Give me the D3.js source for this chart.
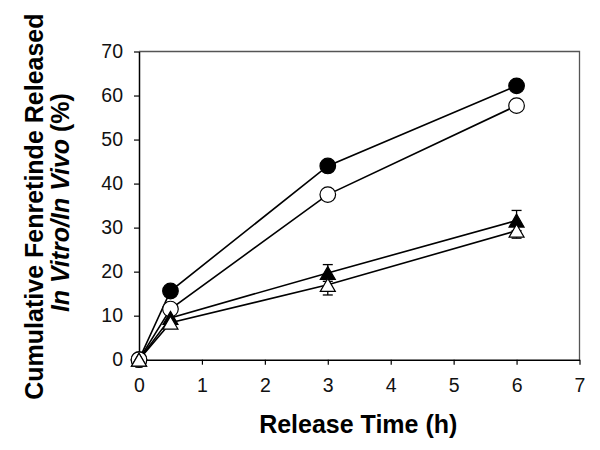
<!DOCTYPE html>
<html>
<head>
<meta charset="utf-8">
<script src="https://cdn.jsdelivr.net/npm/d3@7"></script>
<style>
  body { margin: 0; background: #fff; }
  svg { font-family: "Liberation Sans", Arial, sans-serif; }
</style>
</head>
<body>
<svg id="chart" width="600" height="450"></svg>
<script>
const times = [0, 0.5, 3, 6];
const filledCircle = [0, 15.6, 44.0, 62.2];
const openCircle = [0, 11.5, 37.5, 57.7];
const filledTriangle = [0, 9.5, 19.7, 31.6];
const filledTriangleErr = [0, 0, 1.9, 2.3];
const openTriangle = [0, 8.4, 17.0, 29.3];
const openTriangleErr = [0, 0, 2.3, 1.7];
const xTicks = [0, 1, 2, 3, 4, 5, 6, 7];
const yTicks = [0, 10, 20, 30, 40, 50, 60, 70];

const svg = d3.select("#chart");
const margin = { top: 51.5, right: 20.5, bottom: 90.3, left: 139 };
const width = 600 - margin.left - margin.right,
  height = 450 - margin.top - margin.bottom;

const x = d3.scaleLinear().domain([0, 7]).range([0, width]);
const y = d3.scaleLinear().domain([0, 70]).range([height, 0]);

const g = svg.append("g").attr("transform", `translate(${margin.left},${margin.top})`);

// frame (top and right)
g.append("path")
  .attr("d", `M0,0H${width}V${height}`)
  .attr("fill", "none")
  .attr("stroke", "#555")
  .attr("stroke-width", 1.3);

const xAxis = g.append("g")
  .attr("transform", `translate(0,${height})`)
  .call(d3.axisBottom(x).tickValues(xTicks).tickFormat(d3.format("d"))
    .tickSize(5).tickPadding(13).tickSizeOuter(0));
const yAxis = g.append("g")
  .call(d3.axisLeft(y).tickValues(yTicks).tickFormat(d3.format("d"))
    .tickSize(5).tickPadding(11).tickSizeOuter(0));

[xAxis, yAxis].forEach((a) => {
  a.attr("font-size", 19.5).attr("font-family", "Liberation Sans, Arial, sans-serif");
  a.select(".domain").attr("stroke", "#000").attr("stroke-width", 1.5);
  a.selectAll(".tick line").attr("stroke", "#000").attr("stroke-width", 1.2);
  a.selectAll(".tick text").attr("fill", "#111");
});

const series = [
  { values: filledCircle, shape: "circle", fill: "#000" },
  { values: openCircle, shape: "circle", fill: "#fff" },
  { values: filledTriangle, err: filledTriangleErr, shape: "triangle", fill: "#000" },
  { values: openTriangle, err: openTriangleErr, shape: "triangle", fill: "#fff" },
];

const line = d3.line().x((d) => x(d[0])).y((d) => y(d[1]));

// error bars
series.filter((s) => s.err).forEach((s) => {
  times.forEach((t, i) => {
    const e = s.err[i];
    if (!e) return;
    const cx = x(t);
    const y1 = y(s.values[i] - e), y2 = y(s.values[i] + e);
    g.append("line").attr("x1", cx).attr("x2", cx).attr("y1", y1).attr("y2", y2)
      .attr("stroke", "#000").attr("stroke-width", 1.3);
    [y1, y2].forEach((yy) => {
      g.append("line").attr("x1", cx - 5).attr("x2", cx + 5).attr("y1", yy).attr("y2", yy)
        .attr("stroke", "#000").attr("stroke-width", 1.3);
    });
  });
});

// lines
series.forEach((s) => {
  g.append("path")
    .datum(times.map((t, i) => [t, s.values[i]]))
    .attr("d", line)
    .attr("fill", "none")
    .attr("stroke", "#000")
    .attr("stroke-width", 1.6);
});

// markers
series.forEach((s) => {
  times.forEach((t, i) => {
    const cx = x(t), cy = y(s.values[i]);
    if (s.shape === "circle") {
      g.append("circle").attr("cx", cx).attr("cy", cy).attr("r", 7.8)
        .attr("fill", s.fill).attr("stroke", "#000").attr("stroke-width", 1.2);
    } else {
      const hw = 7.5, hh = 6.5;
      g.append("path")
        .attr("d", `M${cx},${cy - hh}L${cx + hw},${cy + hh}L${cx - hw},${cy + hh}Z`)
        .attr("fill", s.fill).attr("stroke", "#000").attr("stroke-width", 1.2);
    }
  });
});

// axis titles
svg.append("text")
  .attr("x", margin.left + width / 2 - 1)
  .attr("y", 433)
  .attr("text-anchor", "middle")
  .attr("font-size", 25)
  .attr("font-weight", "bold")
  .text("Release Time (h)");

const cy = margin.top + height / 2;
svg.append("text")
  .attr("transform", `translate(43,${cy + 1}) rotate(-90)`)
  .attr("text-anchor", "middle")
  .attr("font-size", 25)
  .attr("font-weight", "bold")
  .text("Cumulative Fenretinde Released");

const t2 = svg.append("text")
  .attr("transform", `translate(69,${cy - 3}) rotate(-90)`)
  .attr("text-anchor", "middle")
  .attr("font-size", 25)
  .attr("font-weight", "bold");
t2.append("tspan").attr("font-style", "italic").text("In Vitro/In Vivo");
t2.append("tspan").text(" (%)");
</script>
</body>
</html>
